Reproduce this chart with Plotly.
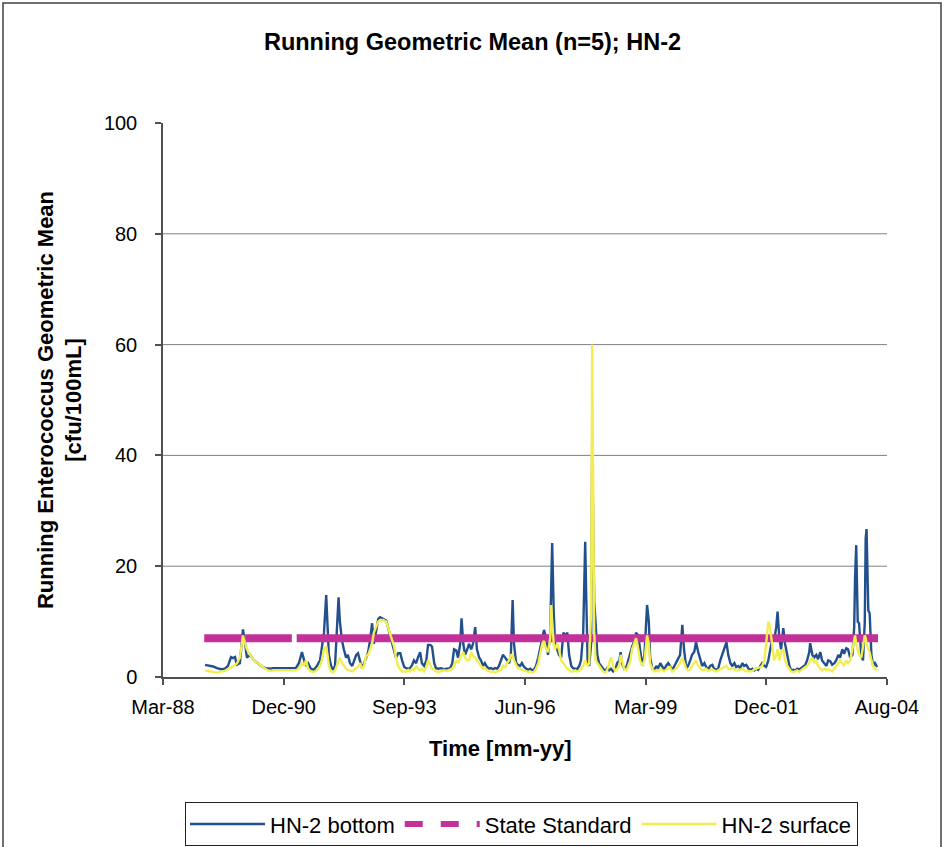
import plotly.graph_objects as go
from datetime import datetime, timedelta

# ---------------- data (time in decimal years) ----------------
time_yr = [
    1989.18, 1989.27, 1989.36, 1989.45, 1989.54, 1989.63, 1989.70, 1989.77, 1989.81, 1989.86, 1989.90, 1989.97,
    1990.04, 1990.09, 1990.13, 1990.20, 1990.27, 1990.34, 1990.40, 1990.47, 1990.54, 1990.61, 1990.68, 1990.72,
    1991.24, 1991.31, 1991.38, 1991.43, 1991.47, 1991.52, 1991.58, 1991.65, 1991.72, 1991.79, 1991.83, 1991.88,
    1991.93, 1991.96, 1991.99,
    1992.04, 1992.08, 1992.13, 1992.17, 1992.21, 1992.24, 1992.29, 1992.33, 1992.38, 1992.42, 1992.47, 1992.52,
    1992.56, 1992.61, 1992.65, 1992.70, 1992.74, 1992.79, 1992.83, 1992.88, 1992.92, 1992.97,
    1993.01, 1993.06, 1993.11, 1993.15, 1993.22, 1993.29, 1993.33, 1993.38, 1993.42, 1993.47, 1993.51, 1993.56,
    1993.61, 1993.65, 1993.70, 1993.74, 1993.79, 1993.83, 1993.88, 1993.92, 1993.97,
    1994.01, 1994.06, 1994.10, 1994.15, 1994.20, 1994.24, 1994.29, 1994.33, 1994.38, 1994.42, 1994.47, 1994.54,
    1994.60, 1994.67, 1994.74, 1994.79, 1994.83, 1994.88, 1994.92, 1994.97,
    1995.00, 1995.04, 1995.08, 1995.13, 1995.17, 1995.22, 1995.26, 1995.31, 1995.35, 1995.40, 1995.44, 1995.49,
    1995.53, 1995.58, 1995.63, 1995.67, 1995.72, 1995.76, 1995.81, 1995.85, 1995.90, 1995.94, 1995.99,
    1996.03, 1996.08, 1996.12, 1996.16, 1996.19, 1996.24, 1996.28, 1996.33, 1996.37, 1996.42, 1996.47, 1996.51,
    1996.56, 1996.60, 1996.65, 1996.69, 1996.74, 1996.78, 1996.83, 1996.87, 1996.92, 1996.96,
    1997.01, 1997.03, 1997.055, 1997.09, 1997.12, 1997.17, 1997.21, 1997.26, 1997.31, 1997.35, 1997.40, 1997.44,
    1997.49, 1997.53, 1997.58, 1997.62, 1997.67, 1997.71, 1997.76, 1997.78, 1997.805, 1997.83, 1997.86, 1997.895,
    1997.94, 1997.963, 1997.986,
    1998.01, 1998.04, 1998.08, 1998.12, 1998.17, 1998.21, 1998.26, 1998.30, 1998.35, 1998.39, 1998.44, 1998.49,
    1998.53, 1998.58, 1998.61, 1998.64, 1998.69, 1998.74, 1998.78, 1998.83, 1998.87, 1998.92, 1998.96,
    1999.01, 1999.05, 1999.10, 1999.15, 1999.19, 1999.21, 1999.25, 1999.28, 1999.33, 1999.37, 1999.42, 1999.46,
    1999.51, 1999.55, 1999.60, 1999.64, 1999.69, 1999.73, 1999.78, 1999.83, 1999.87, 1999.92, 1999.96,
    2000.01, 2000.05, 2000.10, 2000.14, 2000.19, 2000.23, 2000.28, 2000.32, 2000.37, 2000.42, 2000.46, 2000.51,
    2000.55, 2000.60, 2000.64, 2000.69, 2000.73, 2000.78, 2000.82, 2000.87, 2000.91, 2000.96,
    2001.01, 2001.05, 2001.10, 2001.14, 2001.19, 2001.23, 2001.28, 2001.32, 2001.37, 2001.41, 2001.46, 2001.51,
    2001.55, 2001.60, 2001.64, 2001.69, 2001.73, 2001.78, 2001.82, 2001.87, 2001.91, 2001.96,
    2002.00, 2002.05, 2002.09, 2002.14, 2002.17, 2002.21, 2002.25, 2002.30, 2002.34, 2002.39, 2002.44, 2002.48,
    2002.53, 2002.57, 2002.62, 2002.66, 2002.71, 2002.75, 2002.80, 2002.84, 2002.89, 2002.91, 2002.96,
    2003.00, 2003.05, 2003.09, 2003.14, 2003.18, 2003.23, 2003.28, 2003.32, 2003.37, 2003.41, 2003.46, 2003.50,
    2003.55, 2003.59, 2003.64, 2003.68, 2003.73, 2003.77, 2003.82, 2003.87, 2003.91, 2003.93, 2003.956, 2003.99,
    2004.02, 2004.07, 2004.11, 2004.15, 2004.17, 2004.19, 2004.23, 2004.26, 2004.30, 2004.34, 2004.38, 2004.43,
]

bottom = [
    2.2, 2.1, 1.9, 1.6, 1.4, 1.5, 2.0, 3.6, 3.4, 3.6, 2.2, 2.5,
    8.6, 6.0, 3.5, 4.0, 3.2, 2.7, 2.3, 1.9, 1.6, 1.5, 1.5, 1.6,
    1.6, 2.5, 4.5, 3.0, 2.0, 2.5, 1.5, 1.3, 2.0, 3.0, 5.5, 8.0,
    14.8, 9.0, 4.0,
    2.0, 1.3, 2.0, 8.0, 14.4, 10.0, 6.5, 5.0, 3.5, 4.0, 2.5, 2.0,
    2.8, 4.0, 4.3, 2.5, 1.6, 2.5, 3.5, 4.5, 6.5, 9.7,
    6.0, 8.0, 10.5, 10.8, 10.5, 10.2, 9.0, 7.5, 6.5, 5.0, 3.5, 4.3,
    4.3, 3.0, 1.8, 1.6, 1.5, 1.6, 2.2, 3.0, 2.5,
    3.5, 4.5, 2.5, 2.0, 3.0, 5.8, 5.8, 5.5, 2.5, 1.6, 1.5, 1.6,
    1.4, 1.5, 1.6, 2.5, 5.0, 4.8, 3.5, 6.0,
    10.6, 6.0, 4.0, 5.0, 6.0, 5.0, 6.0, 9.0, 5.0, 3.5, 3.0, 2.0,
    2.5, 1.8, 1.5, 1.6, 1.4, 1.6, 1.5, 2.0, 3.0, 4.0, 3.5,
    3.0, 2.5, 4.0, 13.9, 6.0, 2.5, 2.2, 2.0, 2.5, 1.8, 1.5, 1.3,
    1.5, 1.2, 1.4, 2.0, 3.5, 5.0, 6.5, 8.5, 7.0, 4.0,
    8.0, 16.0, 24.2, 12.0, 6.0, 5.0, 4.0, 3.5, 8.0, 7.5, 8.0, 4.0,
    2.0, 1.6, 1.5, 1.4, 2.0, 3.0, 8.0, 18.0, 24.4, 14.0, 3.0, 2.0,
    6.0, 42.0, 30.0,
    13.5, 10.0, 4.0, 2.5, 2.0, 1.5, 1.0, 1.6, 1.2, 1.5, 1.0, 1.4,
    2.5, 3.0, 4.5, 2.5, 1.5, 1.8, 3.0, 4.0, 5.5, 6.5, 8.0,
    7.5, 4.5, 2.0, 4.0, 9.0, 13.0, 10.0, 3.5, 1.5, 1.2, 2.0, 1.5,
    2.5, 2.0, 1.3, 2.0, 2.5, 2.0, 1.2, 2.0, 2.6, 3.5, 4.0,
    9.4, 5.0, 1.5, 2.0, 3.0, 4.0, 4.5, 6.3, 4.5, 3.0, 2.0, 2.5,
    1.8, 1.4, 2.0, 2.2, 1.5, 1.3, 1.5, 3.0, 4.0, 5.0,
    6.3, 4.0, 2.5, 2.0, 2.5, 1.8, 2.0, 1.6, 2.5, 2.0, 2.2, 1.5,
    1.3, 1.5, 1.2, 1.5, 1.3, 2.0, 2.5, 2.0, 1.8, 3.0,
    5.0, 7.0, 6.5, 9.0, 11.8, 7.0, 5.0, 8.8, 6.0, 4.0, 2.0, 1.2,
    1.3, 1.2, 1.5, 1.3, 1.6, 2.0, 2.2, 3.0, 4.5, 6.1, 4.0,
    3.5, 4.0, 3.2, 4.5, 3.0, 2.5, 2.0, 3.0, 2.8, 2.2, 2.5, 3.0,
    4.0, 3.5, 5.0, 4.2, 5.2, 5.0, 3.5, 4.0, 9.0, 18.0, 23.8, 10.0,
    9.7, 4.0, 3.0, 10.0, 25.0, 26.7, 12.0, 11.5, 4.0, 2.0, 2.5, 1.8,
]

surface = [
    1.2, 1.0, 0.9, 0.8, 0.9, 1.1, 1.4, 1.8, 2.0, 2.2, 2.4, 3.5,
    7.5, 6.0, 5.0, 4.0, 3.2, 2.7, 2.3, 1.9, 1.5, 1.2, 1.1, 1.2,
    1.2, 1.5, 2.5, 2.0, 3.0, 1.5, 1.0, 0.9, 1.2, 2.0, 3.0, 5.0,
    5.5, 4.0, 2.0,
    1.0, 0.8, 1.2, 2.0, 3.0, 3.5, 2.5, 2.0, 1.5, 1.3, 1.2, 1.0,
    1.3, 1.5, 1.8, 2.5, 1.5, 2.0, 3.8, 4.0, 5.0, 6.0,
    8.0, 9.0, 10.0, 10.3, 10.3, 10.0, 9.0, 8.0, 7.0, 5.5, 3.5, 2.0,
    1.3, 1.0, 1.0, 0.9, 1.3, 1.0, 1.5, 1.2, 2.0,
    1.5, 1.2, 1.5, 1.0, 1.8, 3.0, 2.0, 1.5, 1.3, 1.0, 0.9, 1.0,
    1.2, 1.1, 1.4, 1.5, 2.0, 3.0, 2.5, 3.5,
    4.0, 4.5, 3.5, 3.0, 3.0, 4.5, 3.8, 3.5, 3.0, 2.5, 2.0, 1.5,
    1.6, 1.2, 1.0, 0.9, 1.0, 0.8, 1.0, 1.2, 1.3, 2.0, 1.8,
    2.5, 3.0, 4.0, 4.0, 3.0, 2.0, 1.5, 1.6, 1.3, 1.2, 1.0, 0.9,
    1.0, 0.8, 1.0, 1.5, 2.5, 4.0, 6.0, 6.5, 5.0, 4.5,
    7.0, 13.0, 10.0, 6.0, 5.0, 6.0, 5.0, 3.0, 2.5, 2.0, 1.5, 1.2,
    1.0, 1.0, 1.2, 1.0, 1.1, 1.5, 2.0, 2.5, 3.0, 2.5, 2.0, 2.5,
    12.0, 60.0, 38.0,
    8.0, 3.0, 2.5, 2.0, 1.5, 1.0, 0.8, 1.2, 2.5, 3.5, 2.0, 1.0,
    1.5, 2.0, 4.0, 3.0, 1.5, 1.2, 2.0, 3.0, 5.0, 6.0, 7.0,
    5.0, 3.0, 2.0, 3.0, 6.0, 7.5, 6.0, 2.5, 1.5, 1.0, 1.2, 1.0,
    1.5, 1.2, 1.0, 1.3, 1.5, 1.8, 1.0, 1.2, 1.5, 2.0, 2.5,
    3.5, 2.5, 1.5, 1.2, 1.4, 2.0, 2.5, 3.0, 2.0, 1.5, 1.2, 1.3,
    1.5, 1.1, 1.3, 1.4, 1.2, 1.0, 1.2, 1.4, 1.6, 1.8,
    2.0, 1.5, 1.4, 1.6, 1.3, 1.2, 1.2, 1.3, 1.5, 1.2, 1.0, 1.1,
    1.0, 1.1, 1.4, 1.5, 1.6, 1.8, 2.0, 3.0, 6.0, 10.0,
    9.0, 5.0, 3.0, 4.0, 5.0, 3.0, 4.5, 5.0, 3.0, 2.0, 1.5, 1.0,
    0.9, 1.0, 1.2, 0.9, 1.3, 1.5, 1.8, 2.0, 2.5, 3.0, 3.5,
    2.5, 3.0, 2.0, 1.5, 1.2, 1.5, 1.3, 1.4, 1.2, 1.0, 1.5, 2.0,
    2.5, 3.0, 2.5, 2.0, 3.0, 2.5, 3.0, 5.0, 7.0, 7.5, 6.0, 5.0,
    4.0, 3.5, 6.0, 7.5, 7.0, 6.0, 5.0, 4.5, 3.0, 2.0, 1.5, 1.2,
]

# State standard (geometric mean limit), with the gaps seen in the record
std_time = [1989.16, 1990.05, None, 1990.09, 1991.15, None, 1991.26, 2004.45]
std_value = [7, 7, None, 7, 7, None, 7, 7]

tick_labels = ["Mar-88", "Dec-90", "Sep-93", "Jun-96", "Mar-99", "Dec-01", "Aug-04"]
axis_start = datetime(1988, 3, 24)
tick_step_days = 1000
y_ticks = [0, 20, 40, 60, 80, 100]
y_grid = [20, 40, 60, 80]


def yr_to_dt(t):
    if t is None:
        return None
    y = int(t)
    a = datetime(y, 1, 1)
    b = datetime(y + 1, 1, 1)
    return a + (b - a) * (t - y)


dates = [yr_to_dt(t) for t in time_yr]
std_dates = [yr_to_dt(t) for t in std_time]
tick_vals = [axis_start + timedelta(days=tick_step_days * i) for i in range(len(tick_labels))]

FONT = "Liberation Sans, Arial, sans-serif"
BLUE = "#21508C"
MAGENTA = "#C2309A"
YELLOW = "#F2EE50"
AXIS = "#505050"

fig = go.Figure()
fig.add_trace(go.Scatter(x=dates, y=bottom, mode="lines", name="HN-2 bottom",
                         line=dict(color=BLUE, width=2.4), legendrank=1))
fig.add_trace(go.Scatter(x=std_dates, y=std_value, mode="lines", name="State Standard",
                         line=dict(color=MAGENTA, width=8), showlegend=False,
                         legendgroup="std", connectgaps=False))
fig.add_trace(go.Scatter(x=[None], y=[None], mode="lines", name="State Standard",
                         line=dict(color=MAGENTA, width=6, dash="dash"),
                         legendgroup="std", legendrank=2))
fig.add_trace(go.Scatter(x=dates, y=surface, mode="lines", name="HN-2 surface",
                         line=dict(color=YELLOW, width=2.4), legendrank=3))

shapes = []
for g in y_grid:
    shapes.append(dict(type="line", xref="paper", yref="y", x0=0, x1=1, y0=g, y1=g,
                       line=dict(color="#808080", width=1), layer="below"))
# outer chart border
shapes.append(dict(type="rect", xref="paper", yref="paper", x0=-0.221, x1=1.0746,
                   y0=-0.45, y1=1.2166, line=dict(color="#404040", width=1.5)))

fig.update_layout(
    width=945, height=847,
    margin=dict(l=163, r=58, t=123, b=170, autoexpand=False),
    paper_bgcolor="white", plot_bgcolor="white",
    font=dict(family=FONT, color="black", size=20),
    title=dict(text="<b>Running Geometric Mean (n=5); HN-2</b>", x=0.5, xref="container",
               y=1 - 42 / 847, yanchor="middle", yref="container",
               font=dict(family=FONT, size=23.5, color="black")),
    xaxis=dict(type="date", range=[tick_vals[0], tick_vals[-1]],
               tickmode="array", tickvals=tick_vals, ticktext=tick_labels,
               showgrid=False, zeroline=False, showline=True, linecolor=AXIS, linewidth=1.5,
               ticks="outside", ticklen=6, tickcolor=AXIS, tickwidth=1.5,
               ticklabelstandoff=5, tickfont=dict(size=20)),
    yaxis=dict(range=[0, 100], tickmode="array", tickvals=y_ticks,
               showgrid=False, zeroline=False, showline=True, linecolor=AXIS, linewidth=1.5,
               ticks="outside", ticklen=6, tickcolor=AXIS, tickwidth=1.5,
               ticklabelstandoff=14, tickfont=dict(size=20),
               title=dict(text="<b>Running Enterococcus Geometric Mean<br>[cfu/100mL]</b>",
                          font=dict(size=22), standoff=16)),
    legend=dict(orientation="h", xref="container", yref="container",
                x=185 / 945, y=1 - 802 / 847, xanchor="left", yanchor="top",
                bordercolor="#222222", borderwidth=1.2, font=dict(size=22),
                itemwidth=75, tracegroupgap=0, bgcolor="white"),
    shapes=shapes,
    annotations=[dict(text="<b>Time [mm-yy]</b>", xref="paper", yref="paper",
                      x=(500 - 163) / 724, y=(677 - 748) / 554, showarrow=False,
                      xanchor="center", yanchor="middle", font=dict(size=22))],
)

fig.write_html("out.html", config={"displayModeBar": False},
               post_script="document.body.style.margin='0';")
